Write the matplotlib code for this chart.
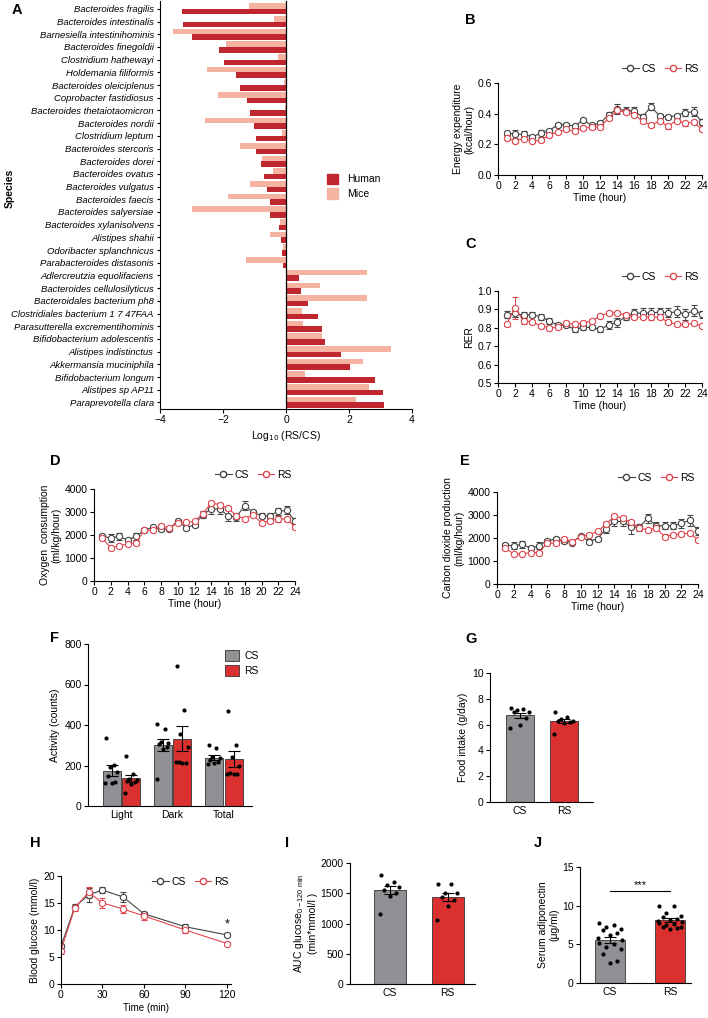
import numpy as np
import matplotlib
matplotlib.use("Agg")
import matplotlib.pyplot as plt
from matplotlib.patches import Patch
from matplotlib.lines import Line2D
from matplotlib.ticker import FormatStrFormatter

plt.rcParams['font.family'] = ['Liberation Sans', 'DejaVu Sans']
plt.rcParams['font.size'] = 7.5
plt.rcParams['axes.linewidth'] = 0.8
plt.rcParams['xtick.major.size'] = 3
plt.rcParams['ytick.major.size'] = 3
plt.rcParams['xtick.major.width'] = 0.8
plt.rcParams['ytick.major.width'] = 0.8
plt.rcParams['xtick.major.pad'] = 1.5
plt.rcParams['ytick.major.pad'] = 1.5

# ---- data ----
species = ["Bacteroides fragilis", "Bacteroides intestinalis", "Barnesiella intestinihominis",
           "Bacteroides finegoldii", "Clostridium hathewayi", "Holdemania filiformis",
           "Bacteroides oleiciplenus", "Coprobacter fastidiosus", "Bacteroides thetaiotaomicron",
           "Bacteroides nordii", "Clostridium leptum", "Bacteroides stercoris", "Bacteroides dorei",
           "Bacteroides ovatus", "Bacteroides vulgatus", "Bacteroides faecis", "Bacteroides salyersiae",
           "Bacteroides xylanisolvens", "Alistipes shahii", "Odoribacter splanchnicus",
           "Parabacteroides distasonis", "Adlercreutzia equolifaciens", "Bacteroides cellulosilyticus",
           "Bacteroidales bacterium ph8", "Clostridiales bacterium 1 7 47FAA",
           "Parasutterella excrementihominis", "Bifidobacterium adolescentis", "Alistipes indistinctus",
           "Akkermansia muciniphila", "Bifidobacterium longum", "Alistipes sp AP11", "Paraprevotella clara"]
human = [-3.30, -3.26, -2.98, -2.12, -1.96, -1.58, -1.47, -1.23, -1.13, -1.01, -0.96, -0.96, -0.79,
         -0.71, -0.60, -0.52, -0.50, -0.22, -0.17, -0.14, -0.10, 0.41, 0.48, 0.69, 1.01, 1.15, 1.24,
         1.75, 2.04, 2.81, 3.08, 3.11]
mice = [-1.17, -0.37, -3.59, -1.89, -0.24, -2.51, -0.06, -2.15, -0.02, -2.56, -0.12, -1.47, -0.76,
        -0.41, -1.13, -1.85, -3.00, -0.18, -0.51, -0.11, -1.27, 2.56, 1.09, 2.56, 0.51, 0.54, 1.15,
        3.34, 2.43, 0.59, 2.62, 2.21]

hours = np.arange(1, 25)
ee_cs = [0.273, 0.266, 0.266, 0.249, 0.271, 0.290, 0.325, 0.329, 0.318, 0.360, 0.325, 0.338, 0.392,
         0.431, 0.420, 0.416, 0.380, 0.446, 0.386, 0.377, 0.388, 0.407, 0.412, 0.346]
ee_cs_err = [0.01, 0.025, 0.02, 0.015, 0.02, 0.012, 0.012, 0.012, 0.012, 0.015, 0.01, 0.012, 0.02,
             0.03, 0.025, 0.03, 0.015, 0.025, 0.012, 0.012, 0.012, 0.025, 0.03, 0.02]
ee_rs = [0.243, 0.221, 0.238, 0.221, 0.227, 0.260, 0.279, 0.297, 0.286, 0.307, 0.310, 0.312, 0.370,
         0.422, 0.409, 0.394, 0.351, 0.325, 0.351, 0.318, 0.355, 0.336, 0.344, 0.297]
ee_rs_err = [0.012, 0.01, 0.01, 0.01, 0.01, 0.01, 0.01, 0.012, 0.01, 0.012, 0.01, 0.01, 0.012, 0.015,
             0.012, 0.012, 0.012, 0.015, 0.01, 0.015, 0.012, 0.015, 0.012, 0.012]

rer_cs = [0.872, 0.878, 0.869, 0.872, 0.860, 0.838, 0.815, 0.815, 0.791, 0.802, 0.802, 0.791, 0.815,
          0.829, 0.860, 0.878, 0.881, 0.881, 0.885, 0.881, 0.887, 0.874, 0.892, 0.874]
rer_cs_err = [0.02, 0.02, 0.015, 0.015, 0.015, 0.015, 0.01, 0.01, 0.012, 0.012, 0.01, 0.015, 0.02,
              0.025, 0.02, 0.025, 0.025, 0.025, 0.025, 0.025, 0.03, 0.03, 0.03, 0.02]
rer_rs = [0.818, 0.910, 0.836, 0.833, 0.811, 0.800, 0.802, 0.827, 0.818, 0.827, 0.836, 0.865, 0.881,
          0.881, 0.869, 0.860, 0.856, 0.860, 0.856, 0.833, 0.818, 0.818, 0.824, 0.810]
rer_rs_err = [0.01, 0.06, 0.015, 0.01, 0.01, 0.01, 0.01, 0.01, 0.01, 0.01, 0.01, 0.01, 0.01, 0.01,
              0.01, 0.01, 0.01, 0.015, 0.01, 0.01, 0.01, 0.01, 0.01, 0.012]

o2_cs = [1942, 1870, 1942, 1768, 1942, 2203, 2333, 2261, 2261, 2623, 2304, 2449, 2884, 3130, 3130,
         2841, 2783, 3275, 2986, 2841, 2841, 3029, 3072, 2609]
o2_cs_err = [100, 180, 150, 120, 150, 80, 80, 80, 80, 80, 100, 100, 150, 200, 200, 250, 180, 200,
             120, 120, 120, 150, 180, 150]
o2_rs = [1870, 1435, 1536, 1609, 1652, 2203, 2203, 2406, 2304, 2522, 2551, 2594, 2928, 3391, 3319,
         3174, 2841, 2696, 2884, 2522, 2623, 2696, 2696, 2348]
o2_rs_err = [80, 60, 60, 60, 80, 60, 60, 60, 60, 60, 60, 60, 80, 100, 80, 80, 80, 100, 80, 80, 80,
             120, 100, 80]

co2_cs = [1702, 1658, 1731, 1556, 1658, 1891, 1949, 1876, 1804, 2095, 1847, 1964, 2385, 2720, 2720,
          2473, 2473, 2865, 2531, 2531, 2531, 2647, 2764, 2313]
co2_cs_err = [100, 150, 150, 100, 150, 80, 80, 80, 80, 80, 100, 100, 150, 200, 200, 300, 150, 200,
              150, 150, 150, 200, 250, 180]
co2_rs = [1556, 1309, 1309, 1367, 1367, 1775, 1775, 1964, 1847, 2065, 2138, 2284, 2604, 2938, 2865,
          2676, 2429, 2356, 2429, 2065, 2138, 2182, 2211, 1920]
co2_rs_err = [80, 60, 60, 60, 60, 60, 60, 60, 60, 60, 60, 60, 80, 100, 80, 80, 80, 100, 80, 100, 100,
              100, 100, 80]

act_groups = ["Light", "Dark", "Total"]
act_cs_pts = [[334, 202, 194, 170, 150, 118, 115, 113],
              [405, 380, 315, 310, 305, 290, 280, 135],
              [300, 285, 240, 235, 225, 215, 210, 205]]
act_rs_pts = [[245, 160, 135, 130, 125, 120, 110, 65],
              [690, 475, 355, 290, 215, 210, 210, 215],
              [470, 300, 240, 200, 165, 160, 160, 160]]

food_cs = [7.3, 7.2, 7.1, 7.0, 7.0, 6.5, 6.0, 5.7]
food_rs = [7.0, 6.6, 6.4, 6.3, 6.3, 6.2, 6.1, 5.3]

gtt_time = [0, 10, 20, 30, 45, 60, 90, 120]
gtt_cs = [7.0, 14.3, 16.5, 17.4, 16.1, 13.0, 10.6, 9.1]
gtt_cs_err = [0.5, 0.5, 1.3, 0.5, 0.9, 0.4, 0.5, 0.3]
gtt_rs = [6.2, 14.1, 17.0, 15.0, 13.9, 12.6, 10.0, 7.5]
gtt_rs_err = [0.6, 0.6, 1.0, 0.9, 0.7, 0.7, 0.5, 0.2]

auc_cs = [1800, 1680, 1640, 1600, 1560, 1500, 1460, 1150]
auc_rs = [1660, 1660, 1510, 1500, 1440, 1390, 1290, 1050]

adipo_cs = [7.7, 7.5, 7.3, 7.0, 6.8, 6.5, 6.2, 5.8, 5.5, 5.2, 5.0, 4.7, 4.4, 3.8, 2.9, 2.6]
adipo_rs = [10.0, 9.9, 9.0, 8.7, 8.5, 8.3, 8.1, 8.0, 7.9, 7.8, 7.6, 7.5, 7.3, 7.2, 7.1, 7.0]

# ---- style ----
C_HUMAN = "#C0262D"
C_MICE = "#F7B3A2"
C_BAR_CS = "#909095"
C_BAR_RS = "#DA3030"
C_LINE_CS = "#444444"
C_LINE_RS = "#E0464E"

W, H = 708, 1018
fig = plt.figure(figsize=(W / 100, H / 100), dpi=100)


def px_axes(l, t, r, b):
    ax = fig.add_axes([l / W, 1 - b / H, (r - l) / W, (b - t) / H])
    ax.spines['top'].set_visible(False)
    ax.spines['right'].set_visible(False)
    return ax


def letter(x, y, s):
    fig.text(x / W, 1 - y / H, s, fontsize=10.5, fontweight='bold', va='center', ha='left')


def spread(n, w):
    # scatter the dots left/right across the bar, alternating sides
    return np.resize([-0.9, 0.35, -0.3, 0.9, -0.6, 0.6, 0.0, -1.0, 1.0], n) * w


# ---- A ----
ax = px_axes(160, 1, 412, 409)
yy = np.arange(len(species))
ax.barh(yy - 0.22, mice, height=0.44, color=C_MICE, label="Mice")
ax.barh(yy + 0.22, human, height=0.44, color=C_HUMAN, label="Human")
ax.axvline(0, color='black', lw=0.9)
ax.set_ylim(len(species) - 0.48, -0.62)
ax.set_xlim(-4, 4)
ax.set_xticks([-4, -2, 0, 2, 4])
ax.set_yticks(yy)
ax.set_yticklabels(species, fontsize=6.8, style='italic')
ax.tick_params(axis='y', length=2.5, pad=2)
ax.set_xlabel("Log$_{10}$ (RS/CS)", fontsize=7.5, labelpad=3)
handles = [Patch(color=C_HUMAN, label="Human"), Patch(color=C_MICE, label="Mice")]
ax.legend(handles=handles, loc='upper left', bbox_to_anchor=(0.625, 0.60), frameon=False,
          handlelength=1.1, handleheight=1.2, handletextpad=0.8, labelspacing=0.35, fontsize=7.5)
fig.text(10 / W, 1 - 188 / H, "Species", rotation=90, fontsize=7.5, fontweight='bold',
         va='center', ha='center')
letter(12, 10, "A")


def time_panel(ax, cs, cs_err, rs, rs_err):
    ax.errorbar(hours, cs, yerr=cs_err, color=C_LINE_CS, lw=0.8, marker='o', ms=4.5, mfc='white',
                mec=C_LINE_CS, mew=0.8, capsize=2, elinewidth=0.7, capthick=0.7, label="CS")
    ax.errorbar(hours, rs, yerr=rs_err, color=C_LINE_RS, lw=0.8, marker='o', ms=4.5, mfc='white',
                mec=C_LINE_RS, mew=0.8, capsize=2, elinewidth=0.7, capthick=0.7, label="RS")
    ax.set_xlim(0, 24)
    ax.set_xticks(range(0, 25, 2))
    ax.set_xlabel("Time (hour)", labelpad=1)
    h = [Line2D([], [], color=C_LINE_CS, lw=0.8, marker='o', ms=4.5, mfc='white', mec=C_LINE_CS),
         Line2D([], [], color=C_LINE_RS, lw=0.8, marker='o', ms=4.5, mfc='white', mec=C_LINE_RS)]
    ax.legend(h, ["CS", "RS"], ncol=2, loc='lower right', bbox_to_anchor=(1.02, 1.02), frameon=False,
              handlelength=1.6, handletextpad=0.3, columnspacing=0.8, borderpad=0.2, fontsize=7.5)


# ---- B ----
ax = px_axes(498, 83, 702, 175)
time_panel(ax, ee_cs, ee_cs_err, ee_rs, ee_rs_err)
ax.set_ylim(0, 0.6)
ax.set_yticks([0, 0.2, 0.4, 0.6])
ax.yaxis.set_major_formatter(FormatStrFormatter('%.1f'))
ax.set_ylabel("Energy expenditure\n(kcal/hour)", labelpad=2)
letter(465, 20, "B")

# ---- C ----
ax = px_axes(498, 291, 702, 383)
time_panel(ax, rer_cs, rer_cs_err, rer_rs, rer_rs_err)
ax.set_ylim(0.5, 1.0)
ax.set_yticks(np.arange(0.5, 1.01, 0.1))
ax.yaxis.set_major_formatter(FormatStrFormatter('%.1f'))
ax.set_ylabel("RER", labelpad=2)
letter(465, 244, "C")

# ---- D ----
ax = px_axes(94, 489, 295, 581)
time_panel(ax, o2_cs, o2_cs_err, o2_rs, o2_rs_err)
ax.set_ylim(0, 4000)
ax.set_yticks([0, 1000, 2000, 3000, 4000])
ax.set_ylabel("Oxygen  consumption\n(ml/kg/hour)", labelpad=2)
letter(50, 461, "D")

# ---- E ----
ax = px_axes(497, 492, 698, 584)
time_panel(ax, co2_cs, co2_cs_err, co2_rs, co2_rs_err)
ax.set_ylim(0, 4000)
ax.set_yticks([0, 1000, 2000, 3000, 4000])
ax.set_ylabel("Carbon dioxide production\n(ml/kg/hour)", labelpad=2)
letter(460, 461, "E")


def bar_pair(ax, x, pts, color, width, jit):
    m = np.mean(pts)
    se = np.std(pts, ddof=1) / np.sqrt(len(pts))
    ax.bar(x, m, width=width, color=color, edgecolor='#333333', lw=0.6, zorder=1)
    ax.errorbar(x, m, yerr=se, color='black', lw=0.8, capsize=4, capthick=0.8, zorder=3)
    ax.scatter(x + spread(len(pts), jit), pts, s=9, color='black', zorder=4, lw=0)


# ---- F ----
ax = px_axes(88, 644, 252, 806)
gx = np.arange(len(act_groups))
for i in range(len(act_groups)):
    bar_pair(ax, gx[i] - 0.19, act_cs_pts[i], C_BAR_CS, 0.35, 0.12)
    bar_pair(ax, gx[i] + 0.19, act_rs_pts[i], C_BAR_RS, 0.35, 0.12)
ax.set_xlim(-0.65, 2.55)
ax.set_ylim(0, 800)
ax.set_yticks([0, 200, 400, 600, 800])
ax.set_xticks(gx)
ax.set_xticklabels(act_groups)
ax.tick_params(axis='x', length=0, pad=3)
ax.set_ylabel("Activity (counts)", labelpad=3)
ax.legend(handles=[Patch(facecolor=C_BAR_CS, edgecolor='#333333', lw=0.6, label="CS"),
                   Patch(facecolor=C_BAR_RS, edgecolor='#333333', lw=0.6, label="RS")],
          loc='upper left', bbox_to_anchor=(0.78, 1.02), frameon=False, handlelength=1.3,
          handleheight=1.3, handletextpad=0.5, labelspacing=0.35, fontsize=7.5)
letter(50, 638, "F")

# ---- G ----
ax = px_axes(490, 673, 593, 802)
bar_pair(ax, 0, food_cs, C_BAR_CS, 0.64, 0.22)
bar_pair(ax, 1, food_rs, C_BAR_RS, 0.64, 0.22)
ax.set_xlim(-0.68, 1.66)
ax.set_ylim(0, 10)
ax.set_yticks([0, 2, 4, 6, 8, 10])
ax.set_xticks([0, 1])
ax.set_xticklabels(["CS", "RS"])
ax.tick_params(axis='x', length=0, pad=3)
ax.set_ylabel("Food intake (g/day)", labelpad=3)
letter(465, 639, "G")

# ---- H ----
ax = px_axes(61, 876, 231, 984)
ax.errorbar(gtt_time, gtt_cs, yerr=gtt_cs_err, color=C_LINE_CS, lw=0.8, marker='o', ms=4.5,
            mfc='white', mec=C_LINE_CS, mew=0.8, capsize=2, elinewidth=0.7, capthick=0.7)
ax.errorbar(gtt_time, gtt_rs, yerr=gtt_rs_err, color=C_LINE_RS, lw=0.8, marker='o', ms=4.5,
            mfc='white', mec=C_LINE_RS, mew=0.8, capsize=2, elinewidth=0.7, capthick=0.7)
ax.set_xlim(0, 123)
ax.set_ylim(0, 20)
ax.set_xticks([0, 30, 60, 90, 120])
ax.set_yticks([0, 5, 10, 15, 20])
ax.text(120, 10.0, "*", ha='center', va='bottom', fontsize=9)
ax.set_xlabel("Time (min)", fontsize=7, labelpad=2)
ax.set_ylabel("Blood glucose (mmol/l)", labelpad=2)
h = [Line2D([], [], color=C_LINE_CS, lw=0.8, marker='o', ms=4.5, mfc='white', mec=C_LINE_CS),
     Line2D([], [], color=C_LINE_RS, lw=0.8, marker='o', ms=4.5, mfc='white', mec=C_LINE_RS)]
ax.legend(h, ["CS", "RS"], ncol=2, loc='upper right', bbox_to_anchor=(1.03, 1.06), frameon=False,
          handlelength=1.6, handletextpad=0.3, columnspacing=0.8, borderpad=0.2, fontsize=7.5)
letter(30, 843, "H")

# ---- I ----
ax = px_axes(350, 863, 475, 984)
bar_pair(ax, 0, auc_cs, C_BAR_CS, 0.55, 0.18)
bar_pair(ax, 1, auc_rs, C_BAR_RS, 0.55, 0.18)
ax.set_xlim(-0.69, 1.47)
ax.set_ylim(0, 2000)
ax.set_yticks([0, 500, 1000, 1500, 2000])
ax.set_xticks([0, 1])
ax.set_xticklabels(["CS", "RS"])
ax.tick_params(axis='x', length=0, pad=3)
ax.set_ylabel("AUC glucose$_{\\mathregular{0-120\\ min}}$\n(min*mmol/l )", labelpad=2)
letter(285, 843, "I")

# ---- J ----
ax = px_axes(580, 867, 691, 983)
bar_pair(ax, 0, adipo_cs, C_BAR_CS, 0.5, 0.2)
bar_pair(ax, 1, adipo_rs, C_BAR_RS, 0.5, 0.2)
ax.set_xlim(-0.5, 1.35)
ax.set_ylim(0, 15)
ax.set_yticks([0, 5, 10, 15])
ax.set_xticks([0, 1])
ax.set_xticklabels(["CS", "RS"])
ax.tick_params(axis='x', length=0, pad=3)
ax.plot([0, 1], [11.9, 11.9], color='black', lw=0.8)
ax.text(0.5, 12.0, "***", ha='center', va='bottom', fontsize=8)
ax.set_ylabel("Serum adiponectin\n(μg/ml)", labelpad=2)
letter(534, 843, "J")

fig.savefig("out.png", dpi=100)
